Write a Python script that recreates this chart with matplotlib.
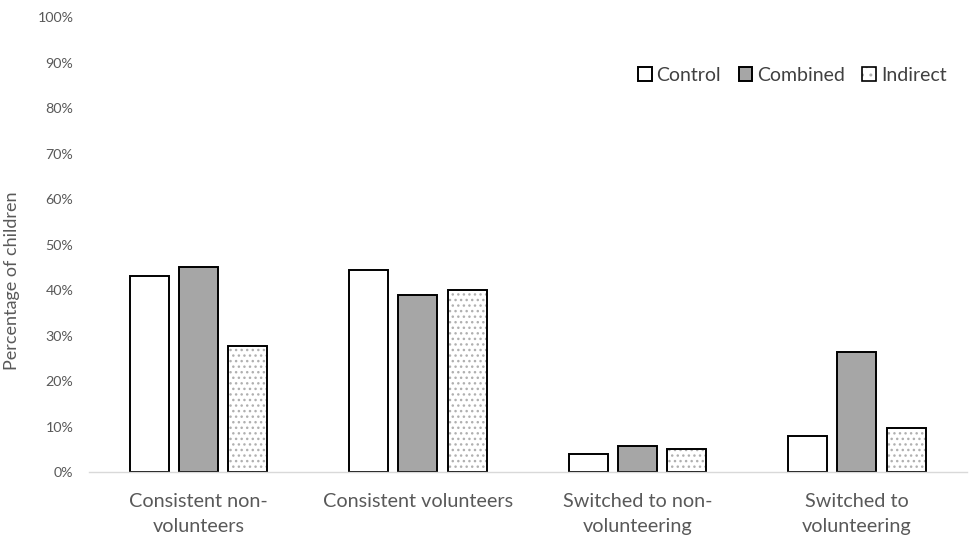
import numpy as np
import matplotlib.pyplot as plt
from matplotlib.ticker import PercentFormatter

plt.rcParams['font.family'] = ['Lato', 'DejaVu Sans']
plt.rcParams['hatch.linewidth'] = 1.0

categories = ['Consistent non-\nvolunteers', 'Consistent volunteers',
              'Switched to non-\nvolunteering', 'Switched to\nvolunteering']
control = [43.2, 44.4, 4.0, 7.9]
combined = [45.1, 38.9, 5.7, 26.3]
indirect = [27.8, 40.0, 5.0, 9.7]
series_names = ['Control', 'Combined', 'Indirect']

grey_text = '#595959'

fig = plt.figure(figsize=(9.7, 5.37), dpi=100)
ax = fig.add_axes([0.0915, 0.121, 0.905, 0.847])

x = np.arange(len(categories))
w = 0.178
step = 0.224

ax.bar(x - step, control, w, color='white', edgecolor='black', linewidth=1.4,
       label=series_names[0])
ax.bar(x, combined, w, color='#a6a6a6', edgecolor='black', linewidth=1.4,
       label=series_names[1])
# dotted fill first, then the black outline on top
ax.bar(x + step, indirect, w, color='white', edgecolor='#b0b0b0', linewidth=0,
       hatch='...')
ax.bar(x + step, indirect, w, color='none', edgecolor='black', linewidth=1.4)
h_dots = plt.Rectangle((0, 0), 1, 1, facecolor='white', edgecolor='#b0b0b0',
                       linewidth=0, hatch='..')
h_edge = plt.Rectangle((0, 0), 1, 1, facecolor='none', edgecolor='black',
                       linewidth=1.2)

ax.set_xlim(-0.5, 3.5)
ax.set_ylim(0, 100)
ax.set_yticks(np.arange(0, 101, 10))
ax.yaxis.set_major_formatter(PercentFormatter(decimals=0))
ax.set_xticks(x)
ax.set_xticklabels(categories, fontsize=14.3, color=grey_text, linespacing=1.55)
ax.tick_params(axis='y', length=0, labelsize=10.3, labelcolor=grey_text, pad=11)
ax.tick_params(axis='x', length=0, pad=15)

for s in ['top', 'right', 'left']:
    ax.spines[s].set_visible(False)
ax.spines['bottom'].set_color('#d9d9d9')
ax.spines['bottom'].set_linewidth(1.0)

ax.set_ylabel('Percentage of children', fontsize=13, color=grey_text)
ax.yaxis.set_label_coords(-0.078, 0.42)

handles, labels = ax.get_legend_handles_labels()
handles.append((h_dots, h_edge))
labels.append(series_names[2])
leg = ax.legend(handles, labels, loc='upper right', bbox_to_anchor=(0.997, 0.93),
                ncol=3, frameon=False, fontsize=14, handlelength=0.7,
                handleheight=0.7, handletextpad=0.25, columnspacing=0.9,
                labelcolor='#404040')

fig.savefig('out.png', dpi=100)
